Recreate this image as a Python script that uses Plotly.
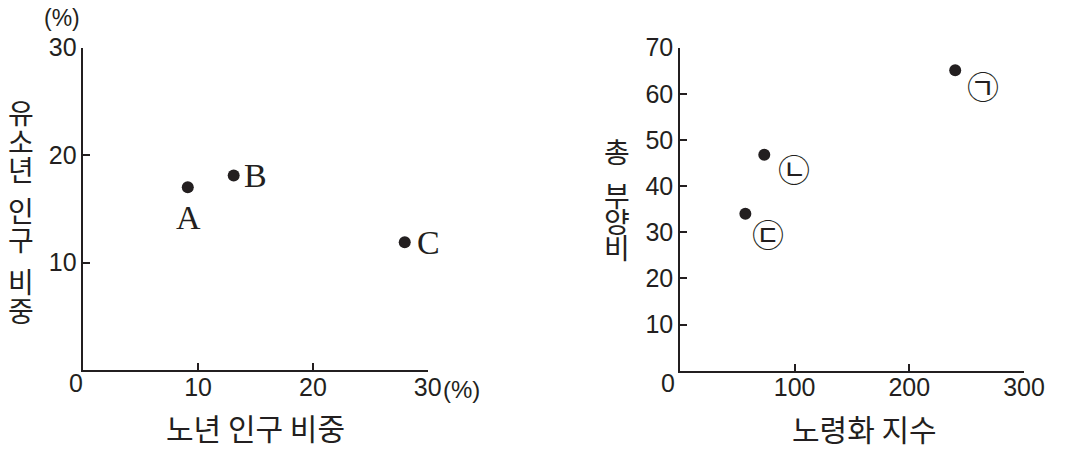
import plotly.graph_objects as go

# left chart: 노년/유소년 인구 비중 (%)
regions = ['A', 'B', 'C']
old_share = [9.1, 13.1, 28.0]
young_share = [17.0, 18.1, 11.9]

# right chart: 노령화 지수 vs 총 부양비
cases = ['㉠', '㉡', '㉢']
aging_index = [240, 73.5, 57]
dependency = [65.1, 46.8, 34.0]

left_xticks = [10, 20, 30]
left_yticks = [10, 20, 30]
right_xticks = [100, 200, 300]
right_yticks = [10, 20, 30, 40, 50, 60, 70]

ink = '#231f20'
sans = 'Liberation Sans, Noto Sans CJK KR'
kr = 'Noto Sans CJK KR'
serif = 'Liberation Serif, DejaVu Serif'
W, H = 1067, 449


def px(x):
    return x / W


def py(y):
    return 1 - y / H


fig = go.Figure()
fig.add_trace(go.Scatter(x=old_share, y=young_share, mode='markers',
                         marker=dict(size=12, color=ink), xaxis='x', yaxis='y',
                         hoverinfo='skip'))
fig.add_trace(go.Scatter(x=aging_index, y=dependency, mode='markers',
                         marker=dict(size=12, color=ink), xaxis='x2', yaxis='y2',
                         hoverinfo='skip'))

axis_style = dict(showline=True, linecolor=ink, linewidth=1.5, ticks='inside',
                  ticklen=7, tickwidth=1.5, tickcolor=ink, showgrid=False,
                  zeroline=False, tickfont=dict(family=sans, size=25, color=ink))

annotations = []


def note(x, y, text, font, xref='paper', yref='paper', dx=0, dy=0, xanchor='center'):
    annotations.append(dict(x=x, y=y, xref=xref, yref=yref, text=text, showarrow=False,
                            xshift=dx, yshift=dy, xanchor=xanchor, yanchor='middle',
                            font=font))


# point labels
left_off = [(1, -30), (22, 0), (24, 0)]
for name, x, y, (dx, dy) in zip(regions, old_share, young_share, left_off):
    note(x, y, name, dict(family=serif, size=34, color=ink), 'x', 'y', dx, dy)
right_off = [(28, -15), (30, -13), (23, -19)]
for name, x, y, (dx, dy) in zip(cases, aging_index, dependency, right_off):
    note(x, y, name, dict(family=kr, size=32, color=ink), 'x2', 'y2', dx, dy)

# zero labels and units
for xp in (76, 668):
    note(px(xp), py(383), '0', dict(family=sans, size=25, color=ink))
note(px(62), py(18), '(%)', dict(family=sans, size=23, color=ink))
note(px(441), py(389), '(%)', dict(family=sans, size=24, color=ink), xanchor='left')

# x titles
note(px(255), py(427), '노년 인구 비중', dict(family=kr, size=30, color=ink))
note(px(864), py(428), '노령화 지수', dict(family=kr, size=30, color=ink))


# stacked (upright) y titles: one annotation per word, line pitch = 1.3 * font size
def stack(word, xc, yc, pitch):
    body = '<br>'.join('<span style="font-size:28px">%s</span>' % ch for ch in word)
    note(px(xc), py(yc), body, dict(family=kr, size=pitch / 1.3, color=ink))


stack('유소년', 21, 140, 28.5)
stack('인구', 21, 224, 28.5)
stack('비중', 21, 295, 28.5)
stack('총', 617, 151, 26)
stack('부양비', 617, 221, 26)

fig.update_layout(
    width=W, height=H, margin=dict(l=0, r=0, t=0, b=0, autoexpand=False),
    paper_bgcolor='white', plot_bgcolor='white', showlegend=False,
    xaxis=dict(domain=[px(83.3), px(427.7)], range=[0, 30], tickvals=left_xticks,
               anchor='y', ticklabelstandoff=-6, **axis_style),
    yaxis=dict(domain=[py(370), py(47.7)], range=[0, 30], tickvals=left_yticks,
               anchor='x', **axis_style),
    xaxis2=dict(domain=[px(680), px(1024)], range=[0, 300], tickvals=right_xticks,
                anchor='y2', ticklabelstandoff=-6, **axis_style),
    yaxis2=dict(domain=[py(370.7), py(47.7)], range=[0, 70], tickvals=right_yticks,
                anchor='x2', **axis_style),
    annotations=annotations,
)

fig.write_html('out.html', config={'displayModeBar': False},
               post_script="document.body.style.margin='0';")
